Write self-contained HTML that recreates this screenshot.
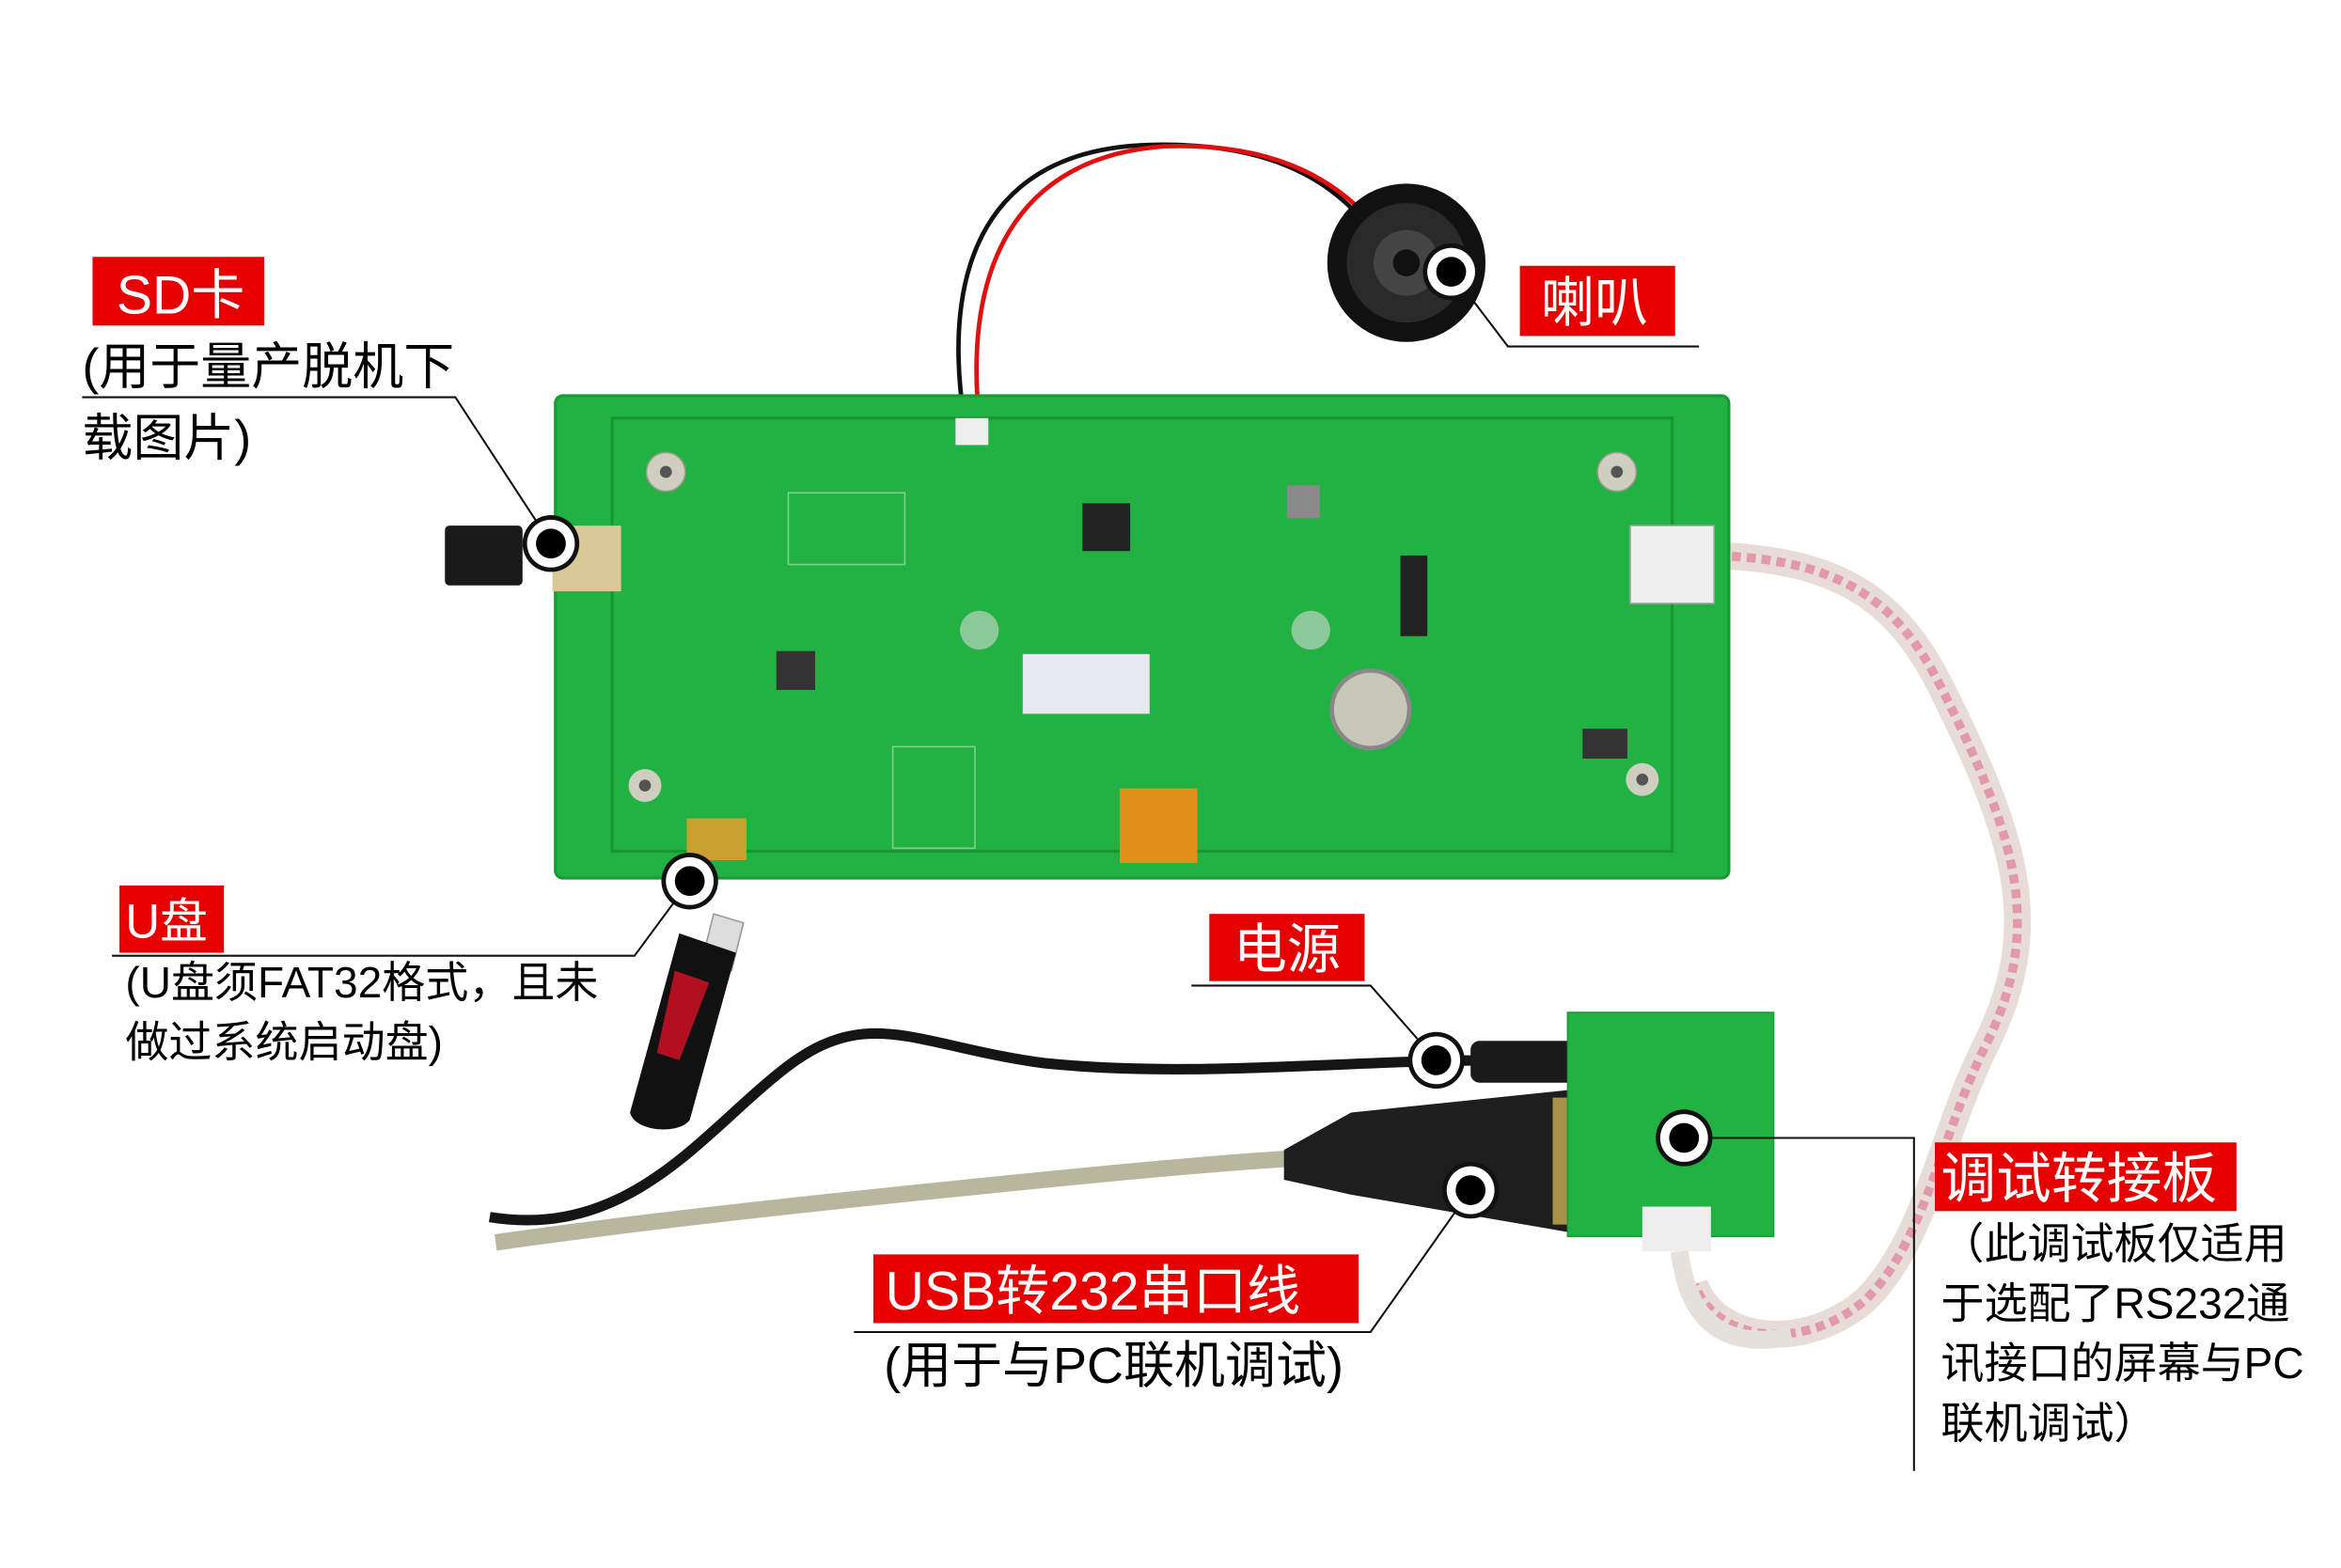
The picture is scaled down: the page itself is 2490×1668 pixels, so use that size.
<!DOCTYPE html>
<html><head><meta charset="utf-8"><style>
html,body{margin:0;padding:0;background:#fff;}
svg{display:block}
text{font-family:"Liberation Sans","Noto Sans CJK SC",sans-serif;}
</style></head><body>
<svg width="2490" height="1668" viewBox="0 0 1568 1050" preserveAspectRatio="none" xmlns="http://www.w3.org/2000/svg">
<rect width="1568" height="1050" fill="#fff"/>

<!-- speaker wires -->
<path d="M646,282 C630,180 660,100 770,97 C850,95 890,120 915,150" fill="none" stroke="#111" stroke-width="3"/>
<path d="M656,282 C645,180 680,105 780,98 C860,95 900,125 925,155" fill="none" stroke="#e01010" stroke-width="3"/>
<!-- speaker -->
<circle cx="942" cy="176" r="53" fill="#111"/>
<circle cx="942" cy="176" r="40" fill="#2a2a2a"/>
<circle cx="942" cy="176" r="22" fill="#444"/>
<circle cx="942" cy="176" r="9" fill="#111"/>

<!-- ribbon cable -->
<path d="M1150,372 C1230,375 1270,400 1300,460 C1350,560 1370,620 1330,700 C1300,760 1290,830 1250,870 C1210,905 1150,900 1135,860" fill="none" stroke="#e8dcd6" stroke-width="18"/>
<path d="M1150,372 C1230,375 1270,400 1300,460 C1350,560 1370,620 1330,700 C1300,760 1290,830 1250,870 C1210,905 1150,900 1135,860" fill="none" stroke="#e29aa8" stroke-width="6" stroke-dasharray="6 4"/>

<!-- main PCB -->
<rect x="372" y="265" width="786" height="323" rx="5" fill="#22b143" stroke="#189a35" stroke-width="2"/>
<rect x="410" y="280" width="710" height="290" fill="none" stroke="#179632" stroke-width="2"/>
<rect x="528" y="330" width="78" height="48" fill="none" stroke="#7fd08f" stroke-width="1"/>
<circle cx="446" cy="316" r="13" fill="#cfcfc0" stroke="#9a9a8a"/><circle cx="446" cy="316" r="4" fill="#555"/>
<circle cx="1083" cy="316" r="13" fill="#cfcfc0" stroke="#9a9a8a"/><circle cx="1083" cy="316" r="4" fill="#555"/>
<circle cx="432" cy="526" r="11" fill="#cfcfc0"/><circle cx="432" cy="526" r="4" fill="#555"/>
<circle cx="1100" cy="522" r="11" fill="#cfcfc0"/><circle cx="1100" cy="522" r="4" fill="#555"/>
<circle cx="656" cy="422" r="13" fill="#8bc99a"/><circle cx="878" cy="422" r="13" fill="#8bc99a"/>
<rect x="725" y="337" width="32" height="32" fill="#222"/>
<rect x="520" y="436" width="26" height="26" fill="#333"/>
<rect x="862" y="325" width="22" height="22" fill="#8a8a8a"/>
<circle cx="918" cy="475" r="26" fill="#c8c8b8" stroke="#888" stroke-width="3"/>
<rect x="938" y="372" width="18" height="54" fill="#222"/>
<rect x="685" y="438" width="85" height="40" fill="#e8e8f0"/>
<rect x="750" y="528" width="52" height="50" fill="#e0901a"/>
<rect x="1092" y="352" width="56" height="52" fill="#eeeeee" stroke="#aaa"/>
<rect x="640" y="280" width="22" height="18" fill="#eee"/>
<rect x="370" y="352" width="46" height="44" fill="#d8c898"/>
<rect x="460" y="548" width="40" height="28" fill="#c8a030"/>
<rect x="1060" y="488" width="30" height="20" fill="#333"/>
<rect x="598" y="500" width="55" height="68" fill="none" stroke="#7fd08f"/>
<!-- SD card -->
<rect x="298" y="352" width="52" height="40" rx="3" fill="#1a1a1a"/>

<!-- power cable -->
<path d="M328,815 C420,830 470,760 520,720 C580,670 610,700 700,712 C800,722 900,710 1000,710" fill="none" stroke="#151515" stroke-width="7"/>
<rect x="985" y="697" width="105" height="28" rx="6" fill="#1a1a1a"/>
<!-- usb cable -->
<path d="M332,832 C450,815 600,800 700,790 C780,782 840,777 880,775" fill="none" stroke="#b9b69e" stroke-width="11"/>
<!-- DB9 -->
<path d="M860,770 L905,745 L1050,730 L1090,745 L1090,820 L1050,825 L905,800 L860,790 Z" fill="#1e1e1e"/>
<rect x="1040" y="735" width="45" height="85" fill="#a8924a"/>

<!-- debug board -->
<rect x="1050" y="678" width="138" height="150" fill="#22b143" stroke="#189a35"/>
<rect x="1100" y="808" width="46" height="30" fill="#eeeeee"/>
<path d="M1125,838 C1130,880 1150,905 1200,895" fill="none" stroke="#e4e0dc" stroke-width="12"/>
<!-- USB stick -->
<path d="M478,612 L498,618 L490,650 L470,644 Z" fill="#ddd" stroke="#999"/>
<path d="M455,625 L493,638 L462,750 C455,760 425,758 422,745 Z" fill="#111"/>
<path d="M452,650 L475,658 L455,710 L440,705 Z" fill="#b01020"/>

<!-- leader lines -->
<g stroke="#111" stroke-width="1.3" fill="none">
<polyline points="55,266 305,266 369,364"/>
<polyline points="1138,232 1010,232 972,182"/>
<polyline points="75,640 425,640 462,590"/>
<polyline points="798,660 918,660 962,710"/>
<polyline points="1128,762 1282,762 1282,985"/>
<polyline points="572,892 918,892 985,797"/>
</g>

<!-- markers -->
<g>
<g transform="translate(369,364)"><circle r="19" fill="#111"/><circle r="16" fill="#fff"/><circle r="10" fill="#000"/></g>
<g transform="translate(972,182)"><circle r="19" fill="#111"/><circle r="16" fill="#fff"/><circle r="10" fill="#000"/></g>
<g transform="translate(462,590)"><circle r="19" fill="#111"/><circle r="16" fill="#fff"/><circle r="10" fill="#000"/></g>
<g transform="translate(962,710)"><circle r="19" fill="#111"/><circle r="16" fill="#fff"/><circle r="10" fill="#000"/></g>
<g transform="translate(1128,762)"><circle r="19" fill="#111"/><circle r="16" fill="#fff"/><circle r="10" fill="#000"/></g>
<g transform="translate(985,797)"><circle r="19" fill="#111"/><circle r="16" fill="#fff"/><circle r="10" fill="#000"/></g>
</g>

<!-- labels -->
<rect x="62" y="172" width="115" height="46" fill="#e60000"/>
<text x="78" y="210" font-size="36" fill="#fff">SD卡</text>
<text x="55" y="257" font-size="34" fill="#000">(用于量产脱机下</text>
<text x="55" y="305" font-size="34" fill="#000">载图片)</text>

<rect x="1018" y="178" width="104" height="47" fill="#e60000"/>
<text x="1032" y="215" font-size="36" fill="#fff">喇叭</text>

<rect x="80" y="593" width="70" height="45" fill="#e60000"/>
<text x="84" y="628" font-size="32" fill="#fff">U盘</text>
<text x="84" y="668" font-size="29" fill="#000">(U盘须FAT32格式，且未</text>
<text x="84" y="708" font-size="29" fill="#000">做过系统启动盘)</text>

<rect x="810" y="612" width="104" height="45" fill="#e60000"/>
<text x="826" y="648" font-size="36" fill="#fff">电源</text>

<rect x="1296" y="765" width="202" height="46" fill="#e60000"/>
<text x="1300" y="802" font-size="37" fill="#fff">调试转接板</text>
<text x="1300" y="843" font-size="29" fill="#000">（此调试板仅适用</text>
<text x="1300" y="883" font-size="29" fill="#000">于选配了RS232通</text>
<text x="1300" y="923" font-size="29" fill="#000">讯接口的屏幕与PC</text>
<text x="1300" y="963" font-size="29" fill="#000">联机调试）</text>

<rect x="585" y="840" width="325" height="46" fill="#e60000"/>
<text x="593" y="877" font-size="36" fill="#fff">USB转232串口线</text>
<text x="592" y="926" font-size="34" fill="#000">(用于与PC联机调试)</text>
</svg>
</body></html>
